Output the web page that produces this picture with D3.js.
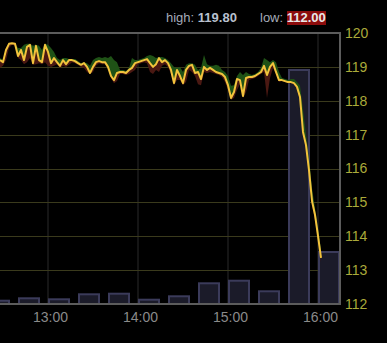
<!DOCTYPE html>
<html>
<head>
<meta charset="utf-8">
<script src="https://cdn.jsdelivr.net/npm/d3@7"></script>
<style>
  html, body { margin: 0; padding: 0; background: #000; }
  svg { display: block; font-family: "Liberation Sans", Arial, sans-serif; }
</style>
</head>
<body>
<svg id="chart" width="387" height="343"></svg>
<script>
// Price series, one point every 2 minutes from 12:28
const startTime = new Date(2020, 0, 1, 12, 28);
const stepMinutes = 2;

const closes = [
  119.20, 119.14, 119.50, 119.68, 119.70, 119.68, 119.32, 119.50, 119.20, 119.59,
  119.65, 119.11, 119.62, 119.20, 119.14, 119.65, 119.44, 119.11, 119.26, 119.14,
  119.03, 119.20, 119.08, 119.20, 119.20, 119.17, 119.11, 119.06, 119.11, 119.00,
  118.82, 119.00, 119.14, 119.17, 119.14, 119.14, 119.00, 118.73, 118.61, 118.82,
  118.85, 118.85, 118.82, 118.91, 118.97, 119.11, 119.14, 119.17, 119.20, 119.23,
  119.11, 119.00, 119.08, 119.26, 119.14, 119.20, 119.11, 118.91, 118.52, 118.91,
  118.73, 118.52, 118.91, 119.03, 119.06, 118.82, 118.85, 118.64, 119.00, 118.91,
  118.97, 118.91, 118.85, 118.82, 118.79, 118.70, 118.46, 118.08, 118.26, 118.64,
  118.61, 118.14, 118.67, 118.70, 118.70, 118.73, 118.79, 118.85, 119.03, 118.76,
  119.00, 119.11, 118.85, 118.61, 118.61, 118.58, 118.55, 118.55, 118.52, 118.41,
  118.11, 117.08, 116.69, 115.95, 115.04, 114.63, 114.01, 113.36
];

const highs = [
  119.26, 119.20, 119.50, 119.70, 119.70, 119.70, 119.56, 119.56, 119.65, 119.68,
  119.68, 119.62, 119.65, 119.62, 119.50, 119.68, 119.65, 119.56, 119.44, 119.26,
  119.20, 119.26, 119.26, 119.23, 119.23, 119.23, 119.17, 119.11, 119.14, 119.11,
  119.03, 119.20, 119.26, 119.29, 119.26, 119.29, 119.26, 119.32, 119.20, 119.14,
  118.91, 118.91, 118.88, 118.97, 119.26, 119.20, 119.20, 119.23, 119.26, 119.32,
  119.35, 119.32, 119.26, 119.29, 119.29, 119.26, 119.20, 119.11, 119.00, 118.97,
  119.00, 118.85, 119.06, 119.11, 119.11, 119.06, 118.91, 118.97, 119.35, 119.08,
  119.03, 119.03, 119.06, 119.03, 118.91, 118.85, 118.73, 118.44, 118.46, 118.73,
  118.85, 118.76, 118.85, 118.79, 118.76, 118.79, 118.85, 118.97, 119.26, 119.20,
  119.14, 119.20, 119.14, 118.85, 118.67, 118.64, 118.61, 118.64, 118.64, 118.55,
  118.44, 117.73, 116.99, 116.31, 115.42, 114.83, 114.24, 113.59
];

const lows = [
  118.97, 119.03, 119.20, 119.56, 119.65, 119.62, 119.26, 119.20, 119.08, 119.14,
  119.26, 119.06, 119.08, 119.11, 119.08, 119.14, 119.03, 119.00, 119.03, 119.08,
  118.97, 119.03, 119.00, 119.06, 119.14, 119.11, 119.06, 119.00, 118.97, 118.85,
  118.79, 118.85, 119.03, 119.11, 119.08, 119.08, 118.97, 118.67, 118.52, 118.58,
  118.79, 118.79, 118.76, 118.79, 118.85, 118.91, 119.08, 119.11, 119.14, 119.11,
  118.85, 118.79, 118.91, 118.85, 119.03, 119.08, 119.00, 118.79, 118.46, 118.61,
  118.61, 118.46, 118.55, 118.91, 118.85, 118.73, 118.49, 118.46, 118.85, 118.82,
  118.85, 118.82, 118.79, 118.76, 118.70, 118.55, 118.32, 118.02, 118.08, 118.32,
  118.49, 118.08, 118.26, 118.61, 118.64, 118.67, 118.73, 118.79, 118.85, 118.08,
  118.67, 118.97, 118.79, 118.55, 118.58, 118.55, 118.52, 118.52, 118.49, 118.32,
  118.02, 117.14, 116.55, 115.81, 114.92, 114.48, 113.89, 113.24
];

// Volume, 20-minute buckets (thousands)
const volumeTimes = ["12:20", "12:40", "13:00", "13:20", "13:40", "14:00",
                     "14:20", "14:40", "15:00", "15:20", "15:40", "16:00"];
const volumes = [33, 57, 47, 97, 103, 43, 77, 207, 233, 127, 2340, 520];

const priceTicks = [112, 113, 114, 115, 116, 117, 118, 119, 120];
const dayHigh = "119.80";
const dayLow = "112.00";

const svg = d3.select("#chart");
const plot = { left: -2, right: 340, top: 33, bottom: 304 };

const parseHM = d3.timeParse("%H:%M");
const toDay = t => new Date(2020, 0, 1, t.getHours(), t.getMinutes());

const points = closes.map((c, i) => ({
  t: d3.timeMinute.offset(startTime, i * stepMinutes),
  c: c, h: highs[i], l: lows[i]
}));

const x = d3.scaleTime()
  .domain([new Date(2020, 0, 1, 12, 28), new Date(2020, 0, 1, 16, 14, 40)])
  .range([0, plot.right]);

const y = d3.scaleLinear().domain([112, 120]).range([plot.bottom, plot.top]);
const yVol = d3.scaleLinear().domain([0, 2710]).range([plot.bottom, plot.top]);

// Grid
const hourTicks = d3.timeHour.every(1).range(x.domain()[0], x.domain()[1]);
svg.append("g").selectAll("line")
  .data(hourTicks)
  .enter().append("line")
  .attr("x1", d => x(d)).attr("x2", d => x(d))
  .attr("y1", plot.top).attr("y2", plot.bottom)
  .attr("stroke", "#2b2b2b").attr("stroke-width", 1);

svg.append("g").selectAll("line")
  .data(priceTicks.slice(1, -1))
  .enter().append("line")
  .attr("x1", 0).attr("x2", plot.right)
  .attr("y1", d => Math.round(y(d)) + 0.5).attr("y2", d => Math.round(y(d)) + 0.5)
  .attr("stroke", "#3a3a1c").attr("stroke-width", 1);

// Volume bars
const vol = volumeTimes.map((t, i) => ({ t: toDay(parseHM(t)), v: volumes[i] }));
svg.append("g").selectAll("rect")
  .data(vol)
  .enter().append("rect")
  .attr("x", d => x(d.t) + 1)
  .attr("y", d => yVol(d.v))
  .attr("width", d => x(d3.timeMinute.offset(d.t, 20)) - x(d.t) - 10)
  .attr("height", d => plot.bottom - yVol(d.v))
  .attr("fill", "#1b1b29")
  .attr("stroke", "#3b3b5a")
  .attr("stroke-width", 2);

// High / low bands around the price
svg.append("path")
  .datum(points)
  .attr("fill", "#1f5216")
  .attr("d", d3.area().x(d => x(d.t)).y0(d => y(d.c)).y1(d => y(d.h)));

svg.append("path")
  .datum(points)
  .attr("fill", "#4a1812")
  .attr("d", d3.area().x(d => x(d.t)).y0(d => y(d.c)).y1(d => y(d.l)));

// Price line
svg.append("path")
  .datum(points)
  .attr("fill", "none")
  .attr("stroke", "#f2c33c")
  .attr("stroke-width", 2)
  .attr("stroke-linejoin", "round")
  .attr("d", d3.line().x(d => x(d.t)).y(d => y(d.c)));

// Border
svg.append("rect")
  .attr("x", plot.left).attr("y", plot.top)
  .attr("width", plot.right - plot.left).attr("height", plot.bottom - plot.top)
  .attr("fill", "none").attr("stroke", "#5c5c5c").attr("stroke-width", 2);

// Axes
const yAxis = d3.axisRight(y).tickValues(priceTicks).tickSize(0).tickPadding(5);
const gy = svg.append("g").attr("transform", "translate(" + plot.right + ",0)").call(yAxis);
gy.select(".domain").remove();
gy.selectAll("text").attr("fill", "#aaaa3a").style("font-size", "14px");

const xAxis = d3.axisBottom(x).tickValues(hourTicks)
  .tickFormat(d3.timeFormat("%H:%M")).tickSize(0).tickPadding(8);
const gx = svg.append("g").attr("transform", "translate(2," + plot.bottom + ")").call(xAxis);
gx.select(".domain").remove();
gx.selectAll("text").attr("fill", "#8a8a8a").style("font-size", "14px");

// Header
const header = svg.append("text").attr("x", 166).attr("y", 22).style("font-size", "13px");
header.append("tspan").attr("fill", "#a4abb8").text("high: ");
header.append("tspan").attr("fill", "#b9c1cf").attr("font-weight", "bold").text(dayHigh);

svg.append("rect").attr("x", 287).attr("y", 11).attr("width", 39).attr("height", 14).attr("fill", "#8c0c0c");
const lowText = svg.append("text").attr("x", 260).attr("y", 22).style("font-size", "13px");
lowText.append("tspan").attr("fill", "#a4abb8").text("low: ");
lowText.append("tspan").attr("fill", "#e8e8e8").attr("font-weight", "bold").text(dayLow);
</script>
</body>
</html>
